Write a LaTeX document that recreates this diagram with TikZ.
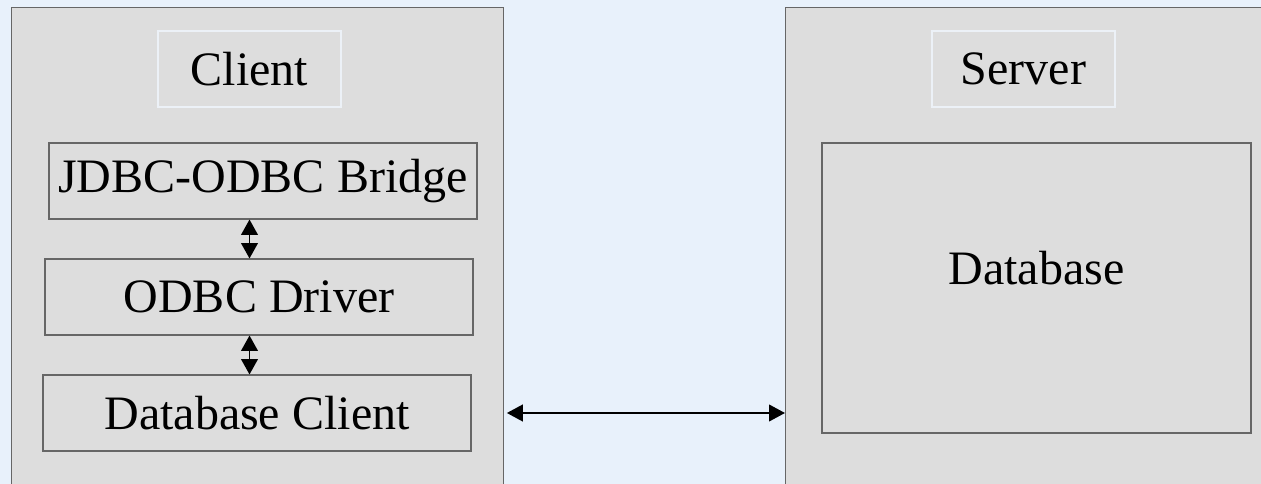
\documentclass[tikz,border=0pt]{standalone}
\usepackage{fontspec}
\setmainfont{Liberation Serif}
\usetikzlibrary{arrows.meta}
\definecolor{bgblue}{RGB}{232,241,251}
\definecolor{boxgray}{RGB}{221,221,221}
\definecolor{edgegray}{RGB}{102,102,102}
\definecolor{titleedge}{RGB}{236,241,247}
\tikzset{
  panel/.style={draw=edgegray, line width=0.9pt, fill=boxgray, inner sep=0pt, anchor=north west},
  layerbox/.style={draw=edgegray, line width=0.8pt, fill=boxgray, inner sep=0pt, font=\fontsize{36}{40}\selectfont},
  titlebox/.style={draw=titleedge, line width=0.8pt, fill=boxgray, inner sep=0pt, font=\fontsize{36}{40}\selectfont},
  labeltext/.style={inner sep=0pt, font=\fontsize{36}{40}\selectfont},
  biarrow/.style={line width=1.1pt, {Triangle[width=12.5pt,length=11.5pt]}-{Triangle[width=12.5pt,length=11.5pt]}},
  longarrow/.style={line width=1.6pt, {Triangle[width=12.5pt,length=12pt]}-{Triangle[width=12.5pt,length=12pt]}}
}
\begin{document}
\begin{tikzpicture}[x=0.75pt,y=-0.75pt]
\useasboundingbox (0,0) rectangle (1261,484);
\fill[bgblue] (0,0) rectangle (1261,484);
\clip (0,0) rectangle (1261,484);
% outer panels
\node[panel, minimum width=369pt, minimum height=366pt] (client) at (11,7) {};
\node[panel, minimum width=369pt, minimum height=366pt] (server) at (785,7) {};
% titles
\node[titlebox, minimum width=137.25pt, minimum height=57pt] (ctitle) at (249.5,69) {Client};
\node[titlebox, minimum width=137.25pt, minimum height=57pt] (stitle) at (1023.5,69) {Server};
% client layers
\node[layerbox, minimum width=321pt, minimum height=57pt] (bridge) at (263,181) {JDBC-ODBC Bridge};
\node[layerbox, minimum width=321pt, minimum height=57pt] (odbc) at (259,297) {ODBC Driver};
\node[layerbox, minimum width=321pt, minimum height=57pt] (dbclient) at (257,413) {Database Client};
% database
\node[layerbox, minimum width=321.75pt, minimum height=217.5pt] (db) at (1036.5,288) {};
\node[labeltext] (dbtext) at (1036.5,268) {Database};
% arrows
\draw[biarrow] (ctitle.south |- bridge.south) -- (ctitle.south |- odbc.north);
\draw[biarrow] (ctitle.south |- odbc.south) -- (ctitle.south |- dbclient.north);
\draw[longarrow] ([xshift=2pt]client.east |- dbclient) -- (server.west |- dbclient);
\end{tikzpicture}
\end{document}
